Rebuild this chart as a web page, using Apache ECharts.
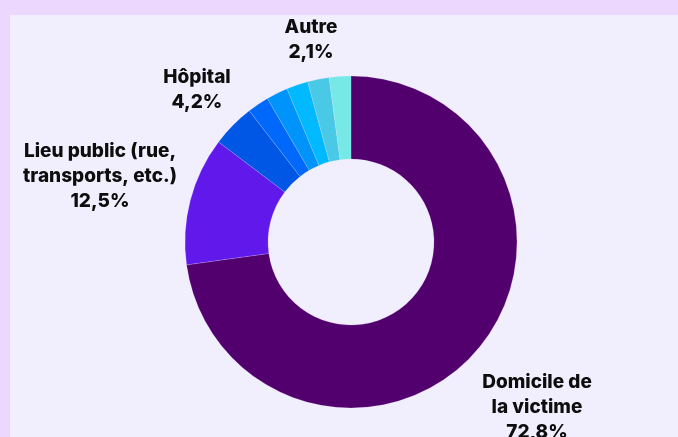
<!DOCTYPE html>
<html>
<head>
<meta charset="utf-8">
<script src="https://cdn.jsdelivr.net/npm/echarts@6/dist/echarts.min.js"></script>
<style>
    html, body { margin: 0; padding: 0; background: #ECD7FE; }
    #wrap { position: absolute; left: 10px; top: 15px; width: 668px; height: 422px; background: #F1EEFE; }
    #chart { width: 678px; height: 437px; position: absolute; left: 0; top: 0; }
</style>
</head>
<body>
<div id="wrap"></div>
<div id="chart"></div>
<script>
    // lieux, dans le sens horaire depuis midi
    const names = ['Domicile de\nla victime', 'Lieu public (rue,\ntransports, etc.)', 'Hôpital', '', '', '', '', 'Autre']
    const values = [72.8, 12.5, 4.2, 2.1, 2.1, 2.1, 2.1, 2.1]
    const showLabel = [true, true, true, false, false, false, false, true]
    const colors = ['#52006E', '#6119EB', '#0057E6', '#0068FA', '#0094FB', '#00B9FF', '#4AC9E6', '#76E8E6']

    // centres des étiquettes
    const labelPos = {
        0: [537, 407],
        1: [100, 176],
        2: [197, 90],
        7: [311, 40]
    }

    let data = values.map((v, i) => {
        return {
            name: names[i],
            value: v,
            itemStyle: { color: colors[i] },
            label: { show: showLabel[i] }
        }
    })

    let chart = echarts.init(document.getElementById('chart'))
    chart.setOption({
        backgroundColor: 'transparent',
        animation: false,
        series: [{
            type: 'pie',
            center: [351, 242],
            radius: [83, 166],
            startAngle: 90,
            clockwise: true,
            avoidLabelOverlap: false,
            data: data,
            itemStyle: {
                borderColor: 'rgba(241,238,254,0.35)',
                borderWidth: 0.5
            },
            labelLine: { show: false },
            label: {
                position: 'outside',
                color: '#0d0d0d',
                fontFamily: 'Inter',
                fontWeight: 800,
                fontSize: 19,
                lineHeight: 25,
                align: 'center',
                formatter: p => p.name + '\n' + String(p.value).replace('.', ',') + '%'
            },
            labelLayout: params => {
                let pos = labelPos[params.dataIndex]
                if (!pos) return {}
                return { x: pos[0], y: pos[1], align: 'center', verticalAlign: 'middle' }
            }
        }]
    })
</script>
</body>
</html>
